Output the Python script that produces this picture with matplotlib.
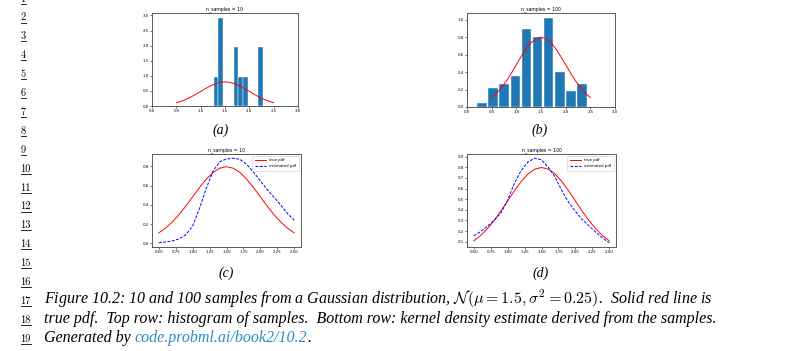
import numpy as np
import matplotlib.pyplot as plt
from matplotlib.lines import Line2D

plt.rcParams['mathtext.fontset'] = 'cm'

W, H = 793, 351

# histogram bars read from the top row (bin centre, density)
centers_10 = [1.31, 1.41, 1.72, 1.82, 1.92, 2.23]
dens_10 = [0.97, 2.91, 1.94, 0.97, 0.97, 1.94]
centers_100 = [0.305, 0.53, 0.755, 0.98, 1.205, 1.43, 1.655, 1.88, 2.105, 2.33]
dens_100 = [0.044, 0.222, 0.267, 0.356, 0.889, 0.80, 1.022, 0.40, 0.178, 0.267]

# curves on the grid 0.5 .. 2.5
grid_x = [0.5, 0.6, 0.7, 0.8, 0.9, 1.0, 1.1, 1.2, 1.3, 1.4, 1.5,
          1.6, 1.7, 1.8, 1.9, 2.0, 2.1, 2.2, 2.3, 2.4, 2.5]
true_pdf = [0.108, 0.158, 0.222, 0.299, 0.388, 0.484, 0.579, 0.666, 0.737, 0.782, 0.798,
            0.782, 0.737, 0.666, 0.579, 0.484, 0.388, 0.299, 0.222, 0.158, 0.108]
kde_10 = [0.005, 0.013, 0.025, 0.045, 0.09, 0.18, 0.36, 0.57, 0.75, 0.85, 0.878,
          0.886, 0.875, 0.82, 0.74, 0.65, 0.56, 0.48, 0.40, 0.31, 0.24]
kde_100 = [0.155, 0.195, 0.245, 0.30, 0.37, 0.49, 0.65, 0.77, 0.85, 0.885, 0.87,
           0.80, 0.71, 0.58, 0.47, 0.385, 0.31, 0.25, 0.19, 0.135, 0.09]

caption_1 = (r'Figure 10.2: 10 and 100 samples from a Gaussian distribution, '
             r'$\mathcal{N}(\mu = 1.5, \sigma^2 = 0.25)$.  Solid red line is')
caption_2 = 'true pdf.  Top row: histogram of samples.  Bottom row: kernel density estimate derived from the samples.'
link_text = 'code.probml.ai/book2/10.2'

fig = plt.figure(figsize=(W / 100, H / 100), dpi=100)


def px_axes(l, t, r, b):
    return fig.add_axes([l / W, 1 - b / H, (r - l) / W, (b - t) / H])


def style(ax, title):
    ax.set_title(title, fontsize=3.3, pad=2)
    ax.tick_params(labelsize=2.8, length=1.5, width=0.4, pad=1)
    for s in ax.spines.values():
        s.set_linewidth(0.7)
        s.set_color('0.35')


ax1 = px_axes(152, 13, 298, 106)
ax1.bar(centers_10, dens_10, width=0.088, color='#1f77b4', edgecolor='white', linewidth=0.3)
ax1.plot(grid_x, true_pdf, color='red', lw=0.7)
ax1.set_xlim(0, 3)
ax1.set_ylim(0, 3.08)
ax1.set_xticks([0, 0.5, 1, 1.5, 2, 2.5, 3])
ax1.set_yticks([0, 0.5, 1, 1.5, 2, 2.5, 3])
style(ax1, 'n_samples = 10')

ax2 = px_axes(467, 13, 615, 107)
ax2.bar(centers_100, dens_100, width=0.195, color='#1f77b4', edgecolor='white', linewidth=0.3)
ax2.plot(grid_x, true_pdf, color='red', lw=0.7)
ax2.set_xlim(0, 3)
ax2.set_ylim(0, 1.075)
ax2.set_xticks([0, 0.5, 1, 1.5, 2, 2.5, 3])
ax2.set_yticks([0, 0.2, 0.4, 0.6, 0.8, 1.0])
style(ax2, 'n_samples = 100')

ax3 = px_axes(152, 154, 301, 247)
ax3.plot(grid_x, true_pdf, color='red', lw=0.7, label='true pdf')
ax3.plot(grid_x, kde_10, color='blue', lw=0.7, ls='--', dashes=(3, 1.5), label='estimated pdf')
ax3.set_xticks([0.5, 0.75, 1.0, 1.25, 1.5, 1.75, 2.0, 2.25, 2.5])
ax3.set_yticks([0, 0.2, 0.4, 0.6, 0.8])
style(ax3, 'n_samples = 10')

ax4 = px_axes(467, 154, 616, 247)
ax4.plot(grid_x, true_pdf, color='red', lw=0.7, label='true pdf')
ax4.plot(grid_x, kde_100, color='blue', lw=0.7, ls='--', dashes=(3, 1.5), label='estimated pdf')
ax4.set_xticks([0.5, 0.75, 1.0, 1.25, 1.5, 1.75, 2.0, 2.25, 2.5])
ax4.set_yticks([0.1, 0.2, 0.3, 0.4, 0.5, 0.6, 0.7, 0.8, 0.9])
style(ax4, 'n_samples = 100')

for ax in (ax3, ax4):
    leg = ax.legend(loc='upper right', fontsize=2.8, handlelength=3, borderpad=0.6,
                    labelspacing=0.5, fancybox=False, framealpha=1)
    leg.get_frame().set_linewidth(0.4)

# sub captions
for x, y, s in [(221, 130, '(a)'), (540, 130, '(b)'), (226, 273, '(c)'), (541, 273, '(d)')]:
    fig.text(x / W, 1 - y / H, s, fontsize=10, family='Liberation Serif', style='italic',
             ha='center', va='center')

# line numbers down the margin
line_y = {}
num_texts = []
for k in range(1, 20):
    yc = 17 + (k - 2) * 18.9
    line_y[k] = yc
    t = fig.text(20.5 / W, 1 - (yc + 3.5) / H, str(k), fontsize=7.5, family='cmr10',
                 ha='left', va='baseline')
    num_texts.append((t, yc))

# caption
x0 = 44
cap_kw = dict(family='Liberation Serif', style='italic', va='baseline')
c1 = fig.text(x0 / W, 1 - (line_y[17] + 3.5) / H, caption_1, fontsize=9, **cap_kw)
c2 = fig.text(x0 / W, 1 - (line_y[18] + 3.5) / H, caption_2, fontsize=9, **cap_kw)

fig.canvas.draw()
r = fig.canvas.get_renderer()
# fit caption lines to the text block width
for c in (c1, c2):
    w = c.get_window_extent(r).width
    c.set_fontsize(9 * (714 - x0) / w)

for t, yc in num_texts:
    bb = t.get_window_extent(r)
    uy = 1 - (yc + 5.5) / H
    fig.add_artist(Line2D([bb.x0 / W, bb.x1 / W], [uy, uy], color='black', lw=0.6))

fs = c2.get_fontsize()
g1 = fig.text(x0 / W, 1 - (line_y[19] + 3.5) / H, 'Generated by ', fontsize=fs, **cap_kw)
fig.canvas.draw()
x1 = g1.get_window_extent(r).x1
g2 = fig.text(x1 / W, 1 - (line_y[19] + 3.5) / H, link_text, fontsize=fs, color='#2b8cc4', **cap_kw)
fig.canvas.draw()
x2 = g2.get_window_extent(r).x1
fig.text(x2 / W, 1 - (line_y[19] + 3.5) / H, '.', fontsize=fs, **cap_kw)

fig.savefig('out.png', dpi=100)
